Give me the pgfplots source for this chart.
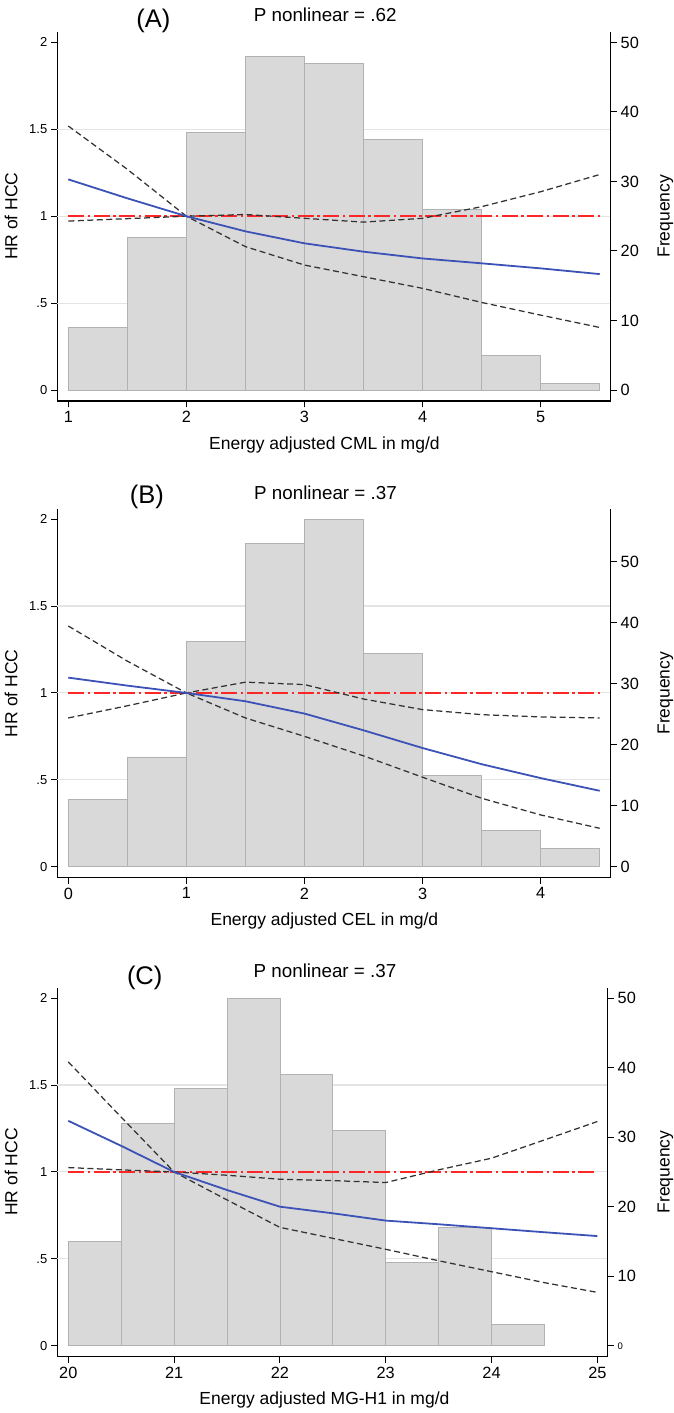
\documentclass[border=0pt]{standalone}
\usepackage{fontspec}
\setmainfont{Liberation Sans}
\usepackage{pgfplots}
\pgfplotsset{compat=1.18}

\definecolor{barfill}{RGB}{217,217,217}
\definecolor{baredge}{RGB}{178,178,178}
\definecolor{gridc}{RGB}{228,228,228}
\definecolor{hrblue}{RGB}{60,82,182}
\definecolor{refred}{RGB}{255,38,38}
\definecolor{cidash}{RGB}{50,50,50}

\pgfplotsset{
  panel/.style={scale only axis, anchor=south west},
  frameaxis/.style={panel,
    axis x line*=bottom, axis y line*=left,
    axis line style={line width=1.2pt,-,black},
    tick align=outside, major tick length=6.5pt,
    tick style={line width=1pt,black},
    ytick={0,0.5,1,1.5,2}, yticklabels={0,.5,1,1.5,2},
    yticklabel style={font=\fontsize{13}{13}\selectfont},
    xticklabel style={font=\fontsize{16.3}{16.3}\selectfont},
    extra y ticks={0.5,1,1.5}, extra y tick labels={},
    extra y tick style={grid=major, major tick length=0pt},
    grid style={gridc, line width=1.1pt},
    /pgf/number format/assume math mode=true},
  freqaxis/.style={panel,
    axis x line=none, axis y line*=right,
    axis line style={line width=1.2pt,-,black},
    tick align=outside, major tick length=6.5pt,
    tick style={line width=1pt,black},
    ytick={0,10,20,30,40,50},
    yticklabel style={font=\fontsize{16.3}{16.3}\selectfont},
    /pgf/number format/assume math mode=true},
  curveaxis/.style={panel, hide axis},
  bars/.style={ybar interval, fill=barfill, draw=baredge, line width=0.8pt},
  refline/.style={refred, line width=1.6pt, dash pattern=on 16pt off 3.5pt on 2.5pt off 3.5pt},
  ciline/.style={cidash, line width=1.25pt, dash pattern=on 6pt off 3.5pt},
  hrline/.style={hrblue, line width=1.8pt},
}

\begin{document}
\begin{tikzpicture}
% ================= Panel A =================
\begin{axis}[frameaxis, at={(57.3pt,1012pt)}, width=553.4pt, height=369pt,
  xmin=0.907, xmax=5.593, ymin=-0.063, ymax=2.06, xtick={1,2,3,4,5}]
\end{axis}
\begin{axis}[freqaxis, at={(57.3pt,1012pt)}, width=553.4pt, height=369pt,
  xmin=0.907, xmax=5.593, ymin=-1.575, ymax=51.5]
\addplot[bars] coordinates {(1,9)(1.5,22)(2,37)(2.5,48)(3,47)(3.5,36)(4,26)(4.5,5)(5,1)(5.5,1)};
\end{axis}
\begin{axis}[curveaxis, at={(57.3pt,1012pt)}, width=553.4pt, height=369pt,
  xmin=0.907, xmax=5.593, ymin=-0.063, ymax=2.06]
\addplot[refline] coordinates {(1,1)(5.5,1)};
\addplot[ciline] coordinates {(1,1.519)(1.5,1.27)(2,1.0)(2.5,1.01)(3,0.988)(3.5,0.966)(4,0.988)(4.5,1.055)(5,1.141)(5.5,1.24)};
\addplot[ciline] coordinates {(1,0.972)(1.5,0.986)(2,1.0)(2.5,0.825)(3,0.719)(3.5,0.652)(4,0.585)(4.5,0.504)(5,0.431)(5.5,0.36)};
\addplot[hrline] coordinates {(1,1.212)(1.5,1.103)(2,1.0)(2.5,0.913)(3,0.844)(3.5,0.796)(4,0.757)(4.5,0.729)(5,0.70)(5.5,0.667)};
\end{axis}

% ================= Panel B =================
\begin{axis}[frameaxis, at={(57.3pt,535.3pt)}, width=553.4pt, height=369pt,
  xmin=-0.093, xmax=4.593, ymin=-0.063, ymax=2.06, xtick={0,1,2,3,4}]
\end{axis}
\begin{axis}[freqaxis, at={(57.3pt,535.3pt)}, width=553.4pt, height=369pt,
  xmin=-0.093, xmax=4.593, ymin=-1.7955, ymax=58.71]
\addplot[bars] coordinates {(0,11)(0.5,18)(1,37)(1.5,53)(2,57)(2.5,35)(3,15)(3.5,6)(4,3)(4.5,3)};
\end{axis}
\begin{axis}[curveaxis, at={(57.3pt,535.3pt)}, width=553.4pt, height=369pt,
  xmin=-0.093, xmax=4.593, ymin=-0.063, ymax=2.06]
\addplot[refline] coordinates {(0,1)(4.5,1)};
\addplot[ciline] coordinates {(0,1.385)(0.5,1.183)(1,1.0)(1.5,1.062)(2,1.048)(2.5,0.965)(3,0.904)(3.5,0.875)(4,0.862)(4.5,0.856)};
\addplot[ciline] coordinates {(0,0.856)(0.5,0.926)(1,1.0)(1.5,0.856)(2,0.75)(2.5,0.638)(3,0.515)(3.5,0.394)(4,0.298)(4.5,0.221)};
\addplot[hrline] coordinates {(0,1.088)(0.5,1.042)(1,1.0)(1.5,0.952)(2,0.881)(2.5,0.785)(3,0.683)(3.5,0.59)(4,0.51)(4.5,0.437)};
\end{axis}

% ================= Panel C =================
\begin{axis}[frameaxis, at={(57.3pt,56.3pt)}, width=550.4pt, height=369pt,
  xmin=19.896, xmax=25.098, ymin=-0.063, ymax=2.06, xtick={20,21,22,23,24,25}]
\end{axis}
\begin{axis}[freqaxis, at={(57.3pt,56.3pt)}, width=550.4pt, height=369pt,
  xmin=19.896, xmax=25.098, ymin=-1.575, ymax=51.5,
  yticklabels={{\fontsize{9.5}{9.5}\selectfont 0},10,20,30,40,50}]
\addplot[bars] coordinates {(20,15)(20.5,32)(21,37)(21.5,50)(22,39)(22.5,31)(23,12)(23.5,17)(24,3)(24.5,3)};
\end{axis}
\begin{axis}[curveaxis, at={(57.3pt,56.3pt)}, width=550.4pt, height=369pt,
  xmin=19.896, xmax=25.098, ymin=-0.063, ymax=2.06]
\addplot[refline] coordinates {(20,1)(25,1)};
\addplot[ciline] coordinates {(20,1.633)(20.5,1.315)(21,1.0)(21.5,0.981)(22,0.958)(22.5,0.95)(23,0.939)(23.5,1.012)(24,1.079)(24.5,1.184)(25,1.29)};
\addplot[ciline] coordinates {(20,1.025)(20.5,1.012)(21,1.0)(21.5,0.839)(22,0.681)(22.5,0.618)(23,0.555)(23.5,0.489)(24,0.426)(24.5,0.363)(25,0.307)};
\addplot[hrline] coordinates {(20,1.294)(20.5,1.15)(21,1.0)(21.5,0.896)(22,0.80)(22.5,0.762)(23,0.72)(23.5,0.699)(24,0.676)(24.5,0.653)(25,0.631)};
\end{axis}

% ================= Texts =================
\newcommand{\ftitle}{\fontsize{25.5}{25.5}\selectfont}
\newcommand{\fsub}{\fontsize{18.8}{18.8}\selectfont}
\newcommand{\flab}{\fontsize{17.5}{17.5}\selectfont}
% A
\node[anchor=base, inner sep=0pt, font=\ftitle] at (153.3pt,1385.7pt) {(A)};
\node[anchor=base, inner sep=0pt, font=\fsub] at (325.2pt,1391.3pt) {P nonlinear = .62};
\node[anchor=base, inner sep=0pt, font=\flab] at (324.4pt,963pt) {Energy adjusted CML in mg/d};
\node[anchor=base, inner sep=0pt, font=\flab, rotate=90] at (17.3pt,1196.8pt) {HR of HCC};
\node[anchor=base, inner sep=0pt, font=\flab, rotate=90] at (669.5pt,1196.8pt) {Frequency};
% B
\node[anchor=base, inner sep=0pt, font=\ftitle] at (146.9pt,909.7pt) {(B)};
\node[anchor=base, inner sep=0pt, font=\fsub] at (325.5pt,913.7pt) {P nonlinear = .37};
\node[anchor=base, inner sep=0pt, font=\flab] at (324.4pt,487.4pt) {Energy adjusted CEL in mg/d};
\node[anchor=base, inner sep=0pt, font=\flab, rotate=90] at (17.3pt,719.7pt) {HR of HCC};
\node[anchor=base, inner sep=0pt, font=\flab, rotate=90] at (669.5pt,719.7pt) {Frequency};
% C
\node[anchor=base, inner sep=0pt, font=\ftitle] at (144.7pt,428pt) {(C)};
\node[anchor=base, inner sep=0pt, font=\fsub] at (325pt,435.3pt) {P nonlinear = .37};
\node[anchor=base, inner sep=0pt, font=\flab] at (324.4pt,8.7pt) {Energy adjusted MG-H1 in mg/d};
\node[anchor=base, inner sep=0pt, font=\flab, rotate=90] at (17.3pt,241pt) {HR of HCC};
\node[anchor=base, inner sep=0pt, font=\flab, rotate=90] at (669.5pt,241pt) {Frequency};

\pgfresetboundingbox
\path[use as bounding box] (0pt,0pt) rectangle (674pt,1413pt);
\end{tikzpicture}
\end{document}
